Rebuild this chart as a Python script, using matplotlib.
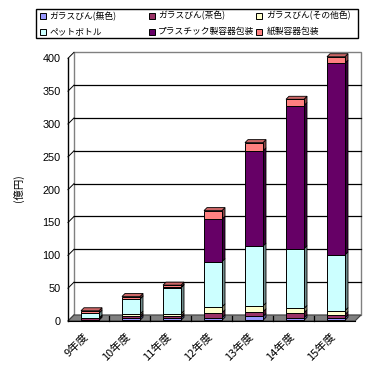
import matplotlib
matplotlib.use("Agg")
import matplotlib.pyplot as plt
from matplotlib.patches import Rectangle, Polygon
from matplotlib.colors import to_rgb
from matplotlib.transforms import ScaledTranslation
import numpy as np

# ---------------- data ----------------
categories = ['9年度', '10年度', '11年度', '12年度', '13年度', '14年度', '15年度']
series_names = ['ガラスびん(無色)', 'ガラスびん(茶色)', 'ガラスびん(その他色)',
                'ペットボトル', 'プラスチック製容器包装', '紙製容器包装']
glass_clear = [1.0, 3.5, 3.5, 4.0, 6.0, 4.0, 4.0]
glass_brown = [2.0, 3.0, 3.0, 7.5, 7.0, 7.5, 4.7]
glass_other = [0.5, 3.0, 3.5, 9.0, 9.0, 6.5, 6.0]
pet_bottle = [7.5, 23.0, 39.5, 69.0, 91.0, 91.0, 85.0]
plastic = [0.0, 0.3, 1.0, 64.5, 145.0, 218.0, 292.0]
paper = [3.5, 3.4, 3.0, 13.0, 12.5, 9.5, 9.6]
series_values = [glass_clear, glass_brown, glass_other, pet_bottle, plastic, paper]
y_ticks = [0, 50, 100, 150, 200, 250, 300, 350, 400]
y_label = '(億円)'

colors = ['#9999FF', '#993366', '#FFFFCC', '#CCFFFF', '#660066', '#FF8080']

def shade(c, f):
    r, g, b = to_rgb(c)
    return (r * f, g * f, b * f)

CJK = ['Noto Sans CJK JP', 'DejaVu Sans']

W, H = 386, 372
fig = plt.figure(figsize=(W / 100, H / 100), dpi=100)
fig.patch.set_facecolor('white')

# front plane of the 3D box in pixels
left_px, right_px, bot_px, top_px = 68, 355, 321, 58.3
ax = fig.add_axes([left_px / W, 1 - bot_px / H, (right_px - left_px) / W, (bot_px - top_px) / H])
n = len(categories)
x = np.arange(n)
ax.set_xlim(-0.5, n - 0.5)
ax.set_ylim(0, 400)
ax.patch.set_alpha(0)

px_per_x = (right_px - left_px) / n
px_per_y = (bot_px - top_px) / 400.0
depth_px = 6.0
dx = depth_px / px_per_x
dy = depth_px / px_per_y
x0, x1 = -0.5, n - 0.5

# back wall
ax.add_patch(Rectangle((x0 + dx, dy), n, 400, facecolor='white', edgecolor='#808080',
                       lw=1.0, zorder=0.5, clip_on=False))
# gridlines on back wall
for v in y_ticks[1:-1]:
    ax.plot([x0 + dx, x1 + dx], [v + dy, v + dy], color='black', lw=0.9, zorder=0.6, clip_on=False)
# left wall connectors
for v in y_ticks:
    ax.plot([x0, x0 + dx], [v, v + dy], color='black', lw=0.7, zorder=0.7, clip_on=False)
# floor
ax.add_patch(Polygon([(x0, 0), (x1, 0), (x1 + dx, dy), (x0 + dx, dy)], closed=True,
                     facecolor='#808080', edgecolor='#404040', lw=0.8, zorder=0.8, clip_on=False))
for k in range(1, n):
    ax.plot([k - 0.5, k - 0.5], [0, dy * 0.8], color='black', lw=0.9, zorder=0.9, clip_on=False)

# bars
bar_w = 18 / px_per_x
bx, by = 0.25 * dx, 0.12 * dy
bdx, bdy = 0.5 * dx, 0.5 * dy
bottoms = np.zeros(n)
vals = np.array(series_values, dtype=float)
totals = vals.sum(axis=0)
for s, (name, col) in enumerate(zip(series_names, colors)):
    v = vals[s]
    ax.bar(x + bx, v, width=bar_w, bottom=bottoms + by, color=col, edgecolor='black',
           lw=0.7, zorder=2, clip_on=False, label=name)
    for i in range(n):
        if v[i] <= 0:
            continue
        xr = x[i] + bx + bar_w / 2
        yb = bottoms[i] + by
        yt = bottoms[i] + v[i] + by
        ax.fill([xr, xr + bdx, xr + bdx, xr], [yb, yb + bdy, yt + bdy, yt],
                facecolor=shade(col, 0.55), edgecolor='black', lw=0.6, zorder=1.9, clip_on=False)
        if abs(bottoms[i] + v[i] - totals[i]) < 1e-9:
            xl = x[i] + bx - bar_w / 2
            ax.fill([xl, xr, xr + bdx, xl + bdx], [yt, yt, yt + bdy, yt + bdy],
                    facecolor=shade(col, 0.8), edgecolor='black', lw=0.6, zorder=1.9, clip_on=False)
    bottoms = bottoms + v

# axes styling
for sp in ['top', 'right']:
    ax.spines[sp].set_visible(False)
ax.spines['left'].set_color('black')
ax.spines['left'].set_linewidth(1.0)
ax.spines['bottom'].set_color('black')
ax.spines['bottom'].set_linewidth(0.8)
ax.set_yticks(y_ticks)
ax.set_yticklabels([str(t) for t in y_ticks], family=['Liberation Sans'], fontsize=7.8)
ax.tick_params(axis='y', length=0, pad=5.5)
ax.set_xticks(x)
ax.set_xticklabels(categories, family=CJK, fontsize=8, rotation=45,
                   ha='right', va='top', rotation_mode='anchor')
ax.tick_params(axis='x', length=0, pad=7)
for lab in ax.get_xticklabels():
    lab.set_transform(lab.get_transform() + ScaledTranslation(-5 / 100, 0, fig.dpi_scale_trans))
ax.set_ylabel(y_label, family=CJK, fontsize=7.5)
ax.yaxis.set_label_coords((24 - left_px) / (right_px - left_px), (bot_px - 188) / (bot_px - top_px))

# legend (Excel style box)
lg_l, lg_r, lg_t, lg_b = 36, 358, 9, 38.3
fig.patches.append(Rectangle((lg_l / W, 1 - lg_b / H), (lg_r - lg_l) / W, (lg_b - lg_t) / H,
                             transform=fig.transFigure, facecolor='white', edgecolor='black',
                             lw=1.0, zorder=5))
col_marker = [40, 149, 256.3]
col_text = [49.3, 158.3, 266.7]
row_y = [16, 31.5]
for k, (name, col) in enumerate(zip(series_names, colors)):
    r, c = divmod(k, 3)
    ms = 6
    fig.patches.append(Rectangle((col_marker[c] / W, 1 - (row_y[r] + ms / 2) / H), ms / W, ms / H,
                                 transform=fig.transFigure, facecolor=col, edgecolor='black',
                                 lw=0.7, zorder=6))
    fig.text(col_text[c] / W, 1 - row_y[r] / H, name, family=CJK, fontsize=6.3,
             ha='left', va='center', zorder=7)

fig.savefig('out.png', dpi=100, facecolor='white')
